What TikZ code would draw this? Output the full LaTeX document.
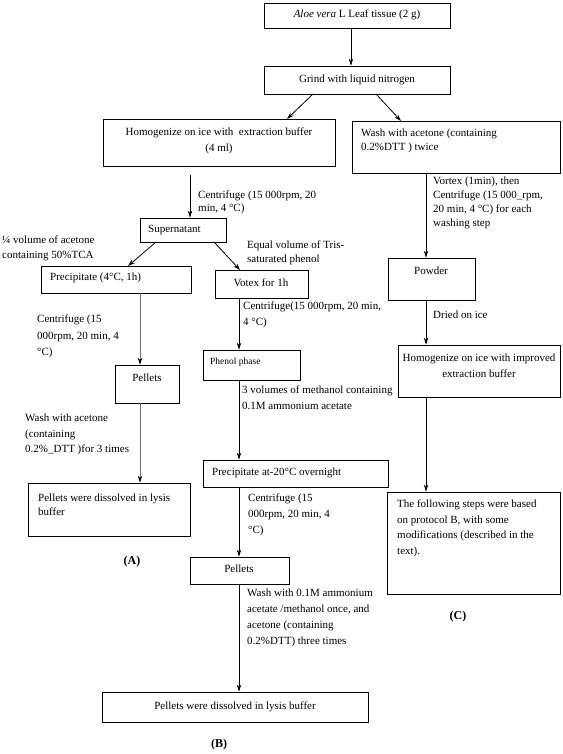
\documentclass[tikz,border=0pt]{standalone}
\usepackage{fontspec}
\setmainfont{Liberation Serif}
\usetikzlibrary{arrows.meta,fit,calc}
\begin{document}
\begin{tikzpicture}[x=1pt,y=-1pt,
  box/.style={draw, line width=0.8pt, inner sep=0pt},
  txt/.style={inner sep=0pt, anchor=west, align=left, font=\fontsize{11}{13.5}\selectfont},
  ctxt/.style={inner sep=0pt, anchor=center, align=center, font=\fontsize{11}{16}\selectfont},
  lbl/.style={inner sep=0pt, anchor=north west, align=left, font=\fontsize{11}{#1}\selectfont},
  lbl/.default=14,
  arr/.style={line width=0.8pt, -{Stealth[length=7pt,width=4.5pt]}},
  garr/.style={line width=0.8pt, draw=black!55, -{Stealth[length=7pt,width=4.5pt,black]}},
  tag/.style={inner sep=0pt, font=\fontsize{12}{14}\selectfont\bfseries}]
\useasboundingbox (0,0) rectangle (562,754);
% boxes
\node[box, fit={(264,3)(450,28)}] (top) {};
\node[box, fit={(264,66)(450,94)}] (grind) {};
\node[box, fit={(103,119)(335,166)}] (homog) {};
\node[box, fit={(352,121)(560,173)}] (wash) {};
\node[box, fit={(140,218)(226,242)}] (super) {};
\node[box, fit={(41,266)(191,293)}] (precip) {};
\node[box, fit={(215,270)(308,298)}] (votex) {};
\node[box, fit={(115,365)(179,403)}] (pelA) {};
\node[box, fit={(28,483)(190,536)}] (dissA) {};
\node[box, fit={(203,350)(300,380)}] (phenol) {};
\node[box, fit={(203,460)(388,487)}] (prec20) {};
\node[box, fit={(190,557)(289,584)}] (pelB) {};
\node[box, fit={(102,692)(368,722)}] (final) {};
\node[box, fit={(388,258)(475,300)}] (powder) {};
\node[box, fit={(398,345)(560,397)}] (improved) {};
\node[box, fit={(387,492)(560,594)}] (cbox) {};
% box texts
\node[ctxt] (ttop) at (357,15) {\textit{Aloe vera} L Leaf tissue (2 g)};
\node[ctxt] (tgrind) at (357,80) {Grind with liquid nitrogen};
\node[ctxt] (thomog) at (219,141) {Homogenize on ice with\ \ extraction buffer\\(4 ml)};
\node[txt] (twash) at (361,141) {Wash with acetone (containing\\0.2\%DTT ) twice};
\node[txt] (tsuper) at (148,230) {Supernatant};
\node[txt] (tprecip) at (50,278) {Precipitate (4°C, 1h)};
\node[ctxt] (tvotex) at (261,283) {Votex for 1h};
\node[ctxt] (tpelA) at (147,378) {Pellets};
\node[txt, anchor=north west] (tdissA) at (38,494) {Pellets were dissolved in lysis\\buffer};
\node[txt, font=\fontsize{9.5}{12}\selectfont] (tphenol) at (210,362) {Phenol phase};
\node[txt] (tprec20) at (212,473) {Precipitate at-20°C overnight};
\node[ctxt] (tpelB) at (239,569) {Pellets};
\node[ctxt] (tfinal) at (235,707) {Pellets were dissolved in lysis buffer};
\node[ctxt] (tpowder) at (431,271) {Powder};
\node[ctxt] (timproved) at (479,366) {Homogenize on ice with improved\\extraction buffer};
\node[lbl=15.5] (tcbox) at (397,500) {The following steps were based\\on protocol B, with some\\modifications (described in the\\text).};
% connector x positions
\coordinate (xa) at (351,0);
\coordinate (xh) at (190,0);
\coordinate (xA) at (140,0);
\coordinate (xB) at (239,0);
\coordinate (xC) at (426,0);
% connectors
\draw[arr] (top.south -| xa) -- (grind.north -| xa);
\coordinate (gl) at (313,94);
\coordinate (gr) at (376,94);
\coordinate (hl) at (287,119);
\coordinate (wr) at (401,121);
\draw[arr] (gl) -- (hl);
\draw[arr] (gr) -- (wr);
\draw[arr] ($(homog.south -| xh)+(0,9)$) -- (super.north -| xh);
\coordinate (sl) at (156,242);
\coordinate (sr) at (214,242);
\coordinate (pl) at (128,266);
\coordinate (vr) at (240,270);
\draw[arr] (sl) -- (pl);
\draw[arr] (sr) -- (vr);
\draw[garr] (precip.south -| xA) -- (pelA.north -| xA);
\draw[garr] (pelA.south -| xA) -- (dissA.north -| xA);
\draw[arr] (votex.south -| xB) -- (phenol.north -| xB);
\draw[arr] (phenol.south -| xB) -- (prec20.north -| xB);
\draw[arr] (prec20.south -| xB) -- (pelB.north -| xB);
\draw[arr] (pelB.south -| xB) -- (final.north -| xB);
\draw[arr] (wash.south -| xC) -- (powder.north -| xC);
\draw[arr] (powder.south -| xC) -- (improved.north -| xC);
\draw[arr] (improved.south -| xC) -- (cbox.north -| xC);
% connector labels
\node[lbl=12.5] (l1) at (198,191) {Centrifuge (15 000rpm, 20\\min, 4 °C)};
\node[lbl=14.5] (l2) at (2,236) {¼ volume of acetone\\containing 50\%TCA};
\node[lbl=14] (l3) at (247,241) {Equal volume of Tris-\\saturated phenol};
\node[lbl=16.5] (l4) at (37,315) {Centrifuge (15\\000rpm, 20 min, 4\\°C)};
\node[lbl=15.5] (l5) at (25,414) {Wash with acetone\\(containing\\0.2\%\_DTT )for 3 times};
\node[lbl=16] (l6) at (243,302) {Centrifuge(15 000rpm, 20 min,\\4 °C)};
\node[lbl=16] (l7) at (242,386) {3 volumes of methanol containing\\0.1M ammonium acetate};
\node[lbl=16] (l8) at (248,494) {Centrifuge (15\\000rpm, 20 min, 4\\°C)};
\node[lbl=16] (l9) at (247,589) {Wash with 0.1M ammonium\\acetate /methanol once, and\\acetone (containing\\0.2\%DTT) three times};
\node[lbl=14] (l10) at (433,177) {Vortex (1min), then\\Centrifuge (15 000\_rpm,\\20 min, 4 °C) for each\\washing step};
\node[lbl] (l11) at (433,311) {Dried on ice};
% tags
\node[tag] (tA) at (132,562) {(A)};
\node[tag] (tB) at (219,745) {(B)};
\node[tag] (tC) at (458,617) {(C)};
\end{tikzpicture}
\end{document}
